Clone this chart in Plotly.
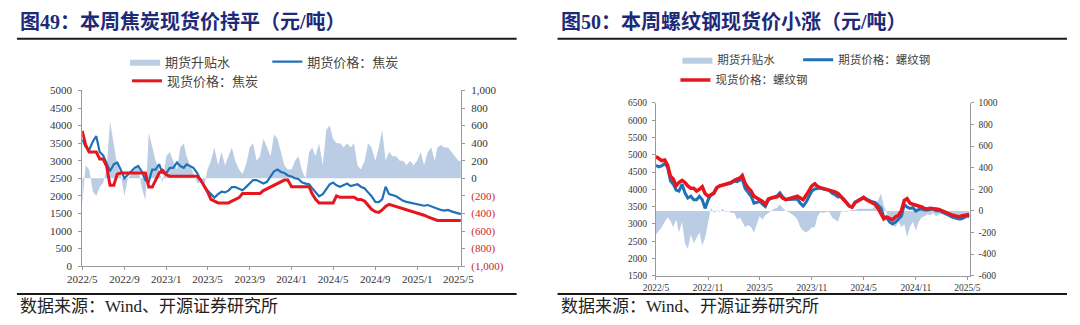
import plotly.graph_objects as go

# ---------------------------------------------------------------------------
# Sampling dates: 1st, 11th and 21st of each month, May 2022 - early May 2025
# ---------------------------------------------------------------------------
MONTHS = ([(2022, m) for m in range(5, 13)] + [(2023, m) for m in range(1, 13)]
          + [(2024, m) for m in range(1, 13)] + [(2025, m) for m in range(1, 5)])
DATES = [f"{y}-{m:02d}-{d:02d}" for y, m in MONTHS for d in (1, 11, 21)] + ["2025-05-01", "2025-05-08"]

# ---------------------------- Coke (焦炭), 元/吨 ----------------------------
coke_futures = [
    3600, 3400, 3300,  3550, 3700, 3250,  3150, 2900, 2700,  2900, 2950, 2750,
    2500, 2600, 2700,  2800, 2850, 2700,  2450, 2400, 2750,  2750, 2900, 2650,
    2650, 2800, 2800,  2950, 2850, 2800,  2900, 2850, 2800,  2650, 2450, 2300,
    2150, 2050, 1950,  2050, 2120, 2100,  2150, 2250, 2250,  2200, 2160, 2250,
    2350, 2450, 2450,  2400, 2350, 2400,  2550, 2700, 2750,  2680, 2650, 2580,
    2550, 2500, 2480,  2380, 2350, 2330,  2220, 2100, 1990,  2050, 2200, 2330,
    2380, 2300, 2260,  2300, 2350, 2280,  2310, 2330, 2260,  2210, 2100, 1990,
    1830, 1820, 1900,  2260, 2050, 2030,  1990, 1920, 1860,  1830, 1810, 1780,
    1760, 1750, 1720,  1740, 1700, 1670,  1640, 1600, 1580,  1600, 1560, 1530,
    1500, 1480,
]
coke_spot = [
    3850, 3450, 3250,  3250, 3250, 3050,  3050, 2850, 2300,  2300, 2620, 2650,
    2650, 2650, 2650,  2650, 2650, 2650,  2650, 2250, 2250,  2450, 2650, 2730,
    2600, 2560, 2560,  2560, 2560, 2560,  2560, 2560, 2560,  2560, 2450, 2300,
    2120, 1900, 1850,  1800, 1800, 1800,  1800, 1850, 1900,  1950, 2070, 2070,
    2070, 2070, 2070,  2070, 2150, 2200,  2250, 2300, 2350,  2400, 2450, 2450,
    2260, 2260, 2260,  2260, 2260, 2260,  2060, 1900, 1800,  1800, 1800, 1800,
    1800, 2000, 1960,  1960, 1960, 1960,  1960, 1900, 1900,  1850, 1720, 1620,
    1550, 1530, 1600,  1700, 1760, 1730,  1700, 1660, 1630,  1600, 1580, 1550,
    1500, 1470, 1450,  1400, 1360, 1320,  1300, 1300, 1300,  1300, 1300, 1300,
    1300, 1300,
]
coke_basis = [
    -300, 150, 100,  -150, -200, -100,  -50, 100, 650,  400, 150, 50,
    -200, 0, 50,  100, 150, -100,  -250, 520, 350,  200, 100, -50,
    250, 300, 200,  100, 350, 400,  250, 150, 50,  -50, -50, -100,
    100, 200, 350,  150, 300, 150,  250, 350, 200,  100, 50, 150,
    350, 400, 200,  250, 450, 350,  250, 500, 450,  300, 150, 100,
    100, 200, 250,  80, 0, 300,  350, 250, 400,  150, 550, 600,
    450, 400, 400,  350, 400, 350,  400, 150, 100,  200, 400, 350,
    200, 350, 550,  200, 300, 250,  250, 200, 200,  150, 200, 150,
    200, 300, 150,  300, 350, 200,  350, 380, 350,  350, 300, 250,
    200, 200,
]

# --------------------------- Rebar (螺纹钢), 元/吨 ---------------------------
rebar_futures = [
    4700, 4650, 4680,  4750, 4640, 4250,  4150, 3980, 3950,  4150, 3900, 3750,
    3800, 3700, 3700,  3800, 3700, 3450,  3700, 3850, 3880,  4050, 4090, 4130,
    4140, 4170, 4180,  4240, 4220, 4270,  4300, 4020, 3920,  3800, 3600, 3630,
    3650, 3570, 3500,  3700, 3750, 3780,  3810, 3900, 3780,  3700, 3710, 3720,
    3730, 3720, 3600,  3520, 3620, 3770,  3950, 4010, 4030,  4040, 4010, 3990,
    3970, 3890, 3850,  3780, 3790, 3720,  3610, 3520, 3490,  3630, 3680, 3720,
    3780, 3715, 3670,  3640, 3620, 3550,  3460, 3200, 3180,  3050, 3000, 3050,
    3150, 3230, 3560,  3490, 3450, 3470,  3370, 3420, 3430,  3400, 3400, 3410,
    3430, 3380, 3390,  3350, 3300, 3270,  3230, 3190, 3160,  3140, 3150, 3200,
    3230, 3210,
]
rebar_spot = [
    4950, 4900, 4830,  4850, 4700, 4380,  4300, 4100, 4200,  4260, 4200, 4100,
    4030, 4030, 3950,  4000, 4075, 3880,  3800, 3840, 3900,  4050, 4100, 4120,
    4150, 4170, 4200,  4260, 4300, 4330,  4400, 4170, 4050,  3950, 3800, 3750,
    3700, 3650, 3560,  3720, 3750, 3760,  3780, 3840, 3750,  3700, 3720, 3750,
    3780, 3800, 3750,  3700, 3820, 3950,  4100, 4160, 4080,  4050, 4030, 4000,
    3980, 3950, 3930,  3880, 3800, 3720,  3620, 3520, 3480,  3620, 3660, 3700,
    3760, 3700, 3650,  3620, 3560, 3450,  3300, 3150, 3200,  3150, 3120, 3200,
    3250, 3380, 3680,  3730, 3600, 3570,  3550, 3520, 3490,  3450, 3430, 3450,
    3450, 3430, 3420,  3380, 3340, 3300,  3280, 3250, 3230,  3200, 3230, 3250,
    3280, 3270,
]
rebar_basis = [
    -220, -190, -150,  -100, -60, -90,  -150, -80, -200,  -100, -300, -350,
    -220, -300, -250,  -200, -320, -250,  -100, 30, -20,  10, -10, 20,
    -10, 0, -20,  -20, -80, -60,  -100, -150, -130,  -150, -200, -120,
    -50, -80, -40,  -20, 0, 20,  30, 60, 30,  0, -10, -30,
    -50, -80, -150,  -180, -200, -180,  -150, -150, -50,  -10, -20, -10,
    -10, -60, -80,  -100, -10, 0,  -10, 0, 10,  10, 20, 20,
    20, 15, 20,  20, 60, 100,  160, 50, -20,  -100, -120, -150,
    -100, -150, -120,  -240, -150, -100,  -180, -100, -60,  -50, -30, -40,
    -20, -50, -30,  -30, -40, -30,  -50, -60, -70,  -60, -80, -50,
    -50, -60,
]

# ------------------------------ axis ticks ---------------------------------
coke_xticks = ["2022-05-01", "2022-09-01", "2023-01-01", "2023-05-01", "2023-09-01",
               "2024-01-01", "2024-05-01", "2024-09-01", "2025-01-01", "2025-05-01"]
coke_xlabels = ["2022/5", "2022/9", "2023/1", "2023/5", "2023/9",
                "2024/1", "2024/5", "2024/9", "2025/1", "2025/5"]
rebar_xticks = ["2022-05-01", "2022-11-01", "2023-05-01", "2023-11-01",
                "2024-05-01", "2024-11-01", "2025-05-01"]
rebar_xlabels = ["2022/5", "2022/11", "2023/5", "2023/11", "2024/5", "2024/11", "2025/5"]

coke_basis_ticks = [-1000, -800, -600, -400, -200, 0, 200, 400, 600, 800, 1000]
coke_basis_labels = ["(1,000)", "(800)", "(600)", "(400)", "(200)", "0",
                     "200", "400", "600", "800", "1,000"]
rebar_basis_ticks = [-600, -400, -200, 0, 200, 400, 600, 800, 1000]
rebar_basis_labels = ["-600", "-400", "-200", "0", "200", "400", "600", "800", "1000"]

# ------------------------------- styling -----------------------------------
W, H = 1080, 325
BLUE = "rgb(31,114,186)"
RED = "rgb(230,22,30)"
AREA = "rgb(186,205,228)"
NAVY = "rgb(30,42,120)"
SERIF = "Liberation Serif, Noto Sans CJK SC, serif"
AXIS_GREY = "#9a9a9a"
X_END = "2025-05-09"
LEGEND_SHIFT = 14  # gap between a legend's anchor and its symbol


def px(x):
    return x / W


def py(y):
    return 1 - y / H


def red_negatives(labels):
    return [f'<span style="color:rgb(200,40,40)">{t}</span>' if t.startswith("(") else t
            for t in labels]


fig = go.Figure()

# ----- coke panel -----
fig.add_trace(go.Scatter(x=DATES, y=coke_basis, name="期货升贴水", mode="lines",
                         fill="tozeroy", fillcolor=AREA, line=dict(width=0, color=AREA),
                         xaxis="x", yaxis="y", legend="legend"))
fig.add_trace(go.Scatter(x=DATES, y=coke_futures, name="期货价格：焦炭", mode="lines",
                         line=dict(color=BLUE, width=2.2), xaxis="x", yaxis="y2",
                         legend="legend2"))
fig.add_trace(go.Scatter(x=DATES, y=coke_spot, name="现货价格：焦炭", mode="lines",
                         line=dict(color=RED, width=3), xaxis="x", yaxis="y2",
                         legend="legend3"))

# ----- rebar panel -----
fig.add_trace(go.Scatter(x=DATES, y=rebar_basis, name="期货升贴水", mode="lines",
                         fill="tozeroy", fillcolor=AREA, line=dict(width=0, color=AREA),
                         xaxis="x2", yaxis="y3", legend="legend4"))
fig.add_trace(go.Scatter(x=DATES, y=rebar_futures, name="期货价格：螺纹钢", mode="lines",
                         line=dict(color=BLUE, width=3), xaxis="x2", yaxis="y4",
                         legend="legend5"))
fig.add_trace(go.Scatter(x=DATES, y=rebar_spot, name="现货价格：螺纹钢", mode="lines",
                         line=dict(color=RED, width=3.5), xaxis="x2", yaxis="y4",
                         legend="legend6"))

axis_common = dict(showgrid=False, zeroline=False, showline=True, linecolor=AXIS_GREY,
                   linewidth=1, ticks="outside", tickcolor=AXIS_GREY, ticklen=3)

coke_font = dict(family=SERIF, size=11, color="#333")
rebar_font = dict(family=SERIF, size=9.5, color="#333")


def legend_at(x_symbol, y_mid, size):
    return dict(x=px(x_symbol - LEGEND_SHIFT), y=py(y_mid), orientation="h",
                xanchor="left", yanchor="middle", bgcolor="rgba(0,0,0,0)",
                borderwidth=0, itemwidth=30,
                font=dict(family=SERIF, size=size, color="#444"))


fig.update_layout(
    width=W, height=H,
    margin=dict(l=0, r=0, t=0, b=0),
    paper_bgcolor="white", plot_bgcolor="white",
    xaxis=dict(domain=[px(69), px(458)], anchor="y", type="date",
               range=["2022-05-01", X_END], tickvals=coke_xticks, ticktext=coke_xlabels,
               tickfont=coke_font, **axis_common),
    yaxis=dict(domain=[py(271), py(88)], anchor="x", side="right",
               range=[-1000, 1000], tickvals=coke_basis_ticks,
               ticktext=red_negatives(coke_basis_labels), tickfont=coke_font,
               ticklabelstandoff=4, **axis_common),
    yaxis2=dict(overlaying="y", anchor="x", side="left", range=[0, 5000], dtick=500,
                tickfont=coke_font, ticklabelstandoff=4, **axis_common),
    xaxis2=dict(domain=[px(658), px(980)], anchor="y3", type="date",
                range=["2022-05-01", X_END], tickvals=rebar_xticks, ticktext=rebar_xlabels,
                tickfont=rebar_font, **axis_common),
    yaxis3=dict(domain=[py(281), py(101)], anchor="x2", side="right",
                range=[-600, 1000], tickvals=rebar_basis_ticks, ticktext=rebar_basis_labels,
                tickfont=rebar_font, ticklabelstandoff=3, **axis_common),
    yaxis4=dict(overlaying="y3", anchor="x2", side="left", range=[1500, 6500], dtick=500,
                tickfont=rebar_font, ticklabelstandoff=3, **axis_common),
    legend=legend_at(127, 58, 13),
    legend2=legend_at(273, 58, 13),
    legend3=legend_at(129, 78, 13),
    legend4=legend_at(694, 56, 11.5),
    legend5=legend_at(818, 56, 11.5),
    legend6=legend_at(692, 77, 11.5),
    showlegend=True,
)

# Title and footer rules
for x0, x1 in [(2, 515), (557, 1080)]:
    for y in (34, 300):
        fig.add_shape(type="line", xref="paper", yref="paper",
                      x0=px(x0), x1=px(x1), y0=py(y), y1=py(y),
                      line=dict(color="#1a1a1a", width=2))

titles = [(3, "图49：本周焦炭现货价持平（元/吨）"), (558, "图50：本周螺纹钢现货价小涨（元/吨）")]
for x, text in titles:
    fig.add_annotation(x=px(x), y=py(16), xref="paper", yref="paper",
                       xanchor="left", yanchor="middle", showarrow=False,
                       text=f"<b>{text}</b>",
                       font=dict(family=SERIF, size=20, color=NAVY))

for x in (3, 558):
    fig.add_annotation(x=px(x), y=py(313), xref="paper", yref="paper",
                       xanchor="left", yanchor="middle", showarrow=False,
                       text="数据来源：Wind、开源证券研究所",
                       font=dict(family=SERIF, size=17, color="#222"))

fig.write_html("out.html")
